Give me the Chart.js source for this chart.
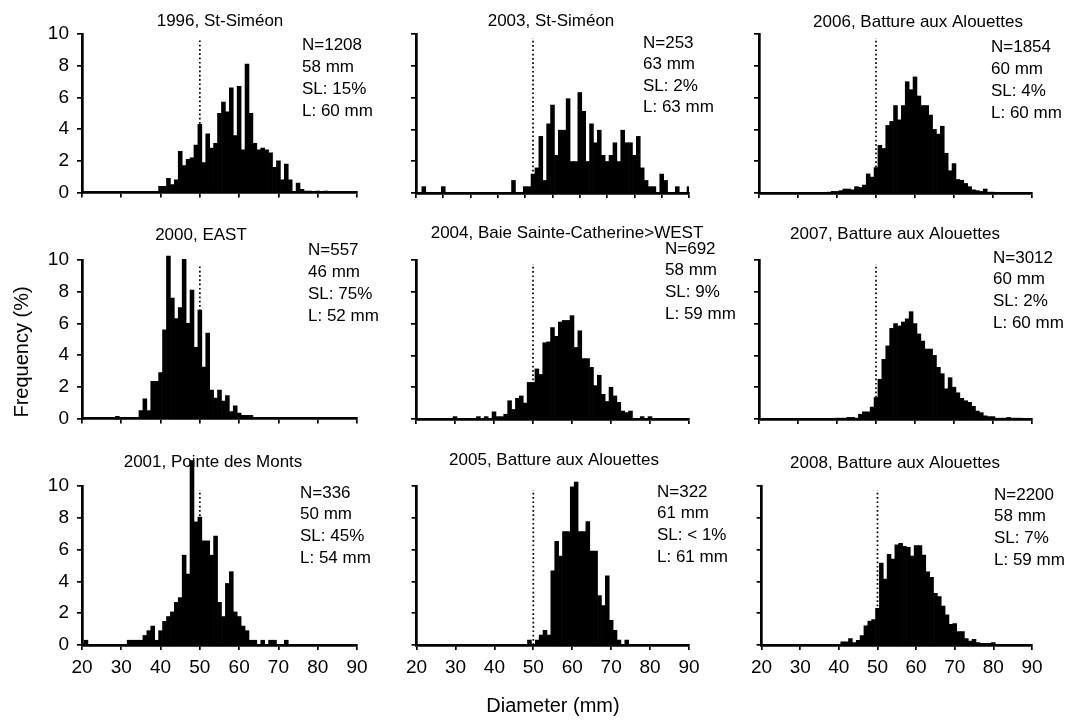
<!DOCTYPE html>
<html><head><meta charset="utf-8">
<script src="https://cdn.jsdelivr.net/npm/chart.js@4.4.1/dist/chart.umd.min.js"></script>
<style>
html,body{margin:0;padding:0;background:#fff;}
#wrap{position:relative;width:1069px;height:721px;overflow:hidden;background:#fff;}
#wrap canvas{position:absolute;}
</style></head><body><div id="wrap"></div>
<script>
// ---- data ----
const diameters = [20,21,22,23,24,25,26,27,28,29,30,31,32,33,34,35,36,37,38,39,40,41,42,43,44,45,46,47,48,49,50,51,52,53,54,55,56,57,58,59,60,61,62,63,64,65,66,67,68,69,70,71,72,73,74,75,76,77,78,79,80,81,82,83,84,85,86,87,88,89,90];
const xTicks = [20,30,40,50,60,70,80,90];
const yTicks = [0,2,4,6,8,10];
const legalSize = 50;
const refTop = 9.75;

const freq1996 = [0,0,0,0,0,0,0,0,0,0, 0,0,0,0,0,0,0,0,0,0,
 0.4,0.4,0.9,0.5,0.8,2.6,1.7,2.1,2.2,3.0,
 4.3,1.9,3.7,2.8,3.1,5.0,5.7,5.1,6.6,3.6,
 6.7,2.7,8.1,5.0,3.1,2.7,2.8,2.7,2.5,1.6,
 2.0,0.8,1.8,0.8,0,0.6,0.2,0.1,0.1,0,
 0.1,0,0.1,0,0,0,0,0,0,0, 0];
const freq2003 = [0,0,0.4,0,0,0,0,0.4,0,0, 0,0,0,0,0,0,0,0,0,0,
 0,0,0,0,0,0.79,0,0,0.4,0.4,
 1.19,1.58,3.56,0.79,4.35,5.53,2.37,3.95,3.95,5.93,
 1.98,1.98,6.32,5.14,1.98,4.35,3.16,3.95,2.37,1.98,
 2.37,3.16,1.98,3.95,3.16,3.16,2.37,3.56,1.58,0.79,
 0.4,0.4,0,1.19,0.79,0,0,0.4,0,0, 0.4];
const freq2006 = [0,0,0,0,0,0,0,0,0,0, 0,0,0,0,0,0,0,0,0.05,0.1,
 0.1,0.15,0.25,0.25,0.2,0.4,0.35,0.5,1.2,1.0,
 1.6,3.0,2.8,4.25,4.5,5.5,4.6,5.5,7.0,6.5,
 7.3,6.1,5.5,5.5,4.9,4.0,3.7,4.2,2.5,1.4,
 1.85,0.85,0.8,0.6,0.4,0.2,0.15,0.1,0.25,0.05,
 0.05,0,0,0,0,0,0,0,0,0, 0];
const freq2000 = [0,0,0,0,0,0,0,0,0,0.15, 0,0,0,0,0,0.5,1.25,0.5,2.35,2.35,
 2.9,5.6,10.25,7.6,6.3,7.0,10.05,6.0,8.1,4.5,
 6.85,3.25,5.4,1.8,1.3,1.8,1.1,1.45,0.45,0.8,
 0.35,0.2,0.2,0.2,0,0,0,0,0,0,
 0,0,0,0,0,0,0,0,0,0,
 0,0,0,0,0,0,0,0,0,0, 0];
const freq2004 = [0,0,0,0,0,0,0,0,0,0, 0.15,0,0,0,0,0,0.15,0,0.15,0,
 0.45,0.15,0.15,0.3,1.15,0.6,1.3,1.45,1.0,2.3,
 2.3,3.15,2.8,4.8,4.85,5.75,5.2,6.1,6.2,6.2,
 6.5,4.5,5.55,3.8,3.8,3.25,2.1,2.75,1.55,1.1,
 2.0,1.45,1.05,0.5,0.4,0.5,0,0,0.15,0,
 0.15,0,0,0,0,0,0,0,0,0, 0];
const freq2007 = [0,0,0,0,0,0,0,0,0,0, 0,0,0,0,0,0,0,0,0,0,
 0.05,0.05,0.05,0.1,0.1,0.05,0.3,0.45,0.45,0.75,
 1.35,2.5,3.75,4.6,5.7,6.0,5.85,6.1,6.3,6.75,
 6.0,5.35,4.9,4.4,4.4,4.0,3.25,2.85,1.9,2.6,
 2.0,1.65,1.3,1.15,1.05,0.8,0.5,0.4,0.2,0.15,
 0.15,0.05,0.05,0.05,0.1,0.05,0.05,0.05,0,0, 0];
const freq2001 = [0,0.3,0,0,0,0,0,0,0,0, 0,0,0.3,0.3,0.3,0.3,0.6,0.9,1.19,0.3,
 0.9,1.49,1.79,2.08,2.68,2.98,5.65,4.46,11.6,7.74,
 8.04,6.55,6.55,5.65,6.85,2.68,1.79,3.87,4.61,2.08,
 1.79,1.19,0.9,0.3,0.3,0,0.3,0,0.3,0.3,
 0,0,0.3,0,0,0,0,0,0,0,
 0,0,0,0,0,0,0,0,0,0, 0];
const freq2005 = [0,0,0,0,0,0,0,0,0,0, 0,0,0,0,0,0,0,0,0,0,
 0,0,0,0,0,0,0,0,0,0.31,
 0,0.31,0.62,0.93,0.62,4.66,6.52,5.59,7.14,7.14,
 9.94,10.25,7.14,7.14,7.76,5.9,5.9,3.11,2.48,4.35,
 1.55,0.93,0.31,0,0.31,0,0,0,0,0,
 0,0,0,0,0,0,0,0,0,0, 0];
const freq2008 = [0,0,0,0,0,0,0,0,0,0, 0,0,0,0,0,0,0,0,0,0,
 0,0.2,0.2,0.4,0.15,0.3,0.6,1.2,1.5,1.6,
 2.3,5.15,4.15,5.7,5.4,6.3,6.4,6.2,6.15,5.6,
 6.25,6.25,5.65,4.6,4.25,3.25,3.05,2.45,1.9,1.3,
 1.35,0.85,0.85,0.4,0.25,0.35,0.15,0.1,0.1,0.1,
 0.15,0,0,0,0,0,0,0,0,0, 0];

const titles = ['1996, St-Siméon','2003, St-Siméon','2006, Batture aux Alouettes',
 '2000, EAST','2004, Baie Sainte-Catherine>WEST','2007, Batture aux Alouettes',
 '2001, Pointe des Monts','2005, Batture aux Alouettes','2008, Batture aux Alouettes'];
const notes = [
 ['N=1208','58 mm','SL: 15%','L: 60 mm'],
 ['N=253','63 mm','SL: 2%','L: 63 mm'],
 ['N=1854','60 mm','SL: 4%','L: 60 mm'],
 ['N=557','46 mm','SL: 75%','L: 52 mm'],
 ['N=692','58 mm','SL: 9%','L: 59 mm'],
 ['N=3012','60 mm','SL: 2%','L: 60 mm'],
 ['N=336','50 mm','SL: 45%','L: 54 mm'],
 ['N=322','61 mm','SL: < 1%','L: 61 mm'],
 ['N=2200','58 mm','SL: 7%','L: 59 mm']];
const series = [freq1996,freq2003,freq2006,freq2000,freq2004,freq2007,freq2001,freq2005,freq2008];
const xLabel = 'Diameter (mm)';
const yLabel = 'Frequency (%)';

// ---- layout (pixels) ----
const FONT = "'Liberation Sans', Arial, Helvetica, sans-serif";
const colArea = [[82,357],[416,689],[759,1032]];
const rowArea = [[34,193],[260,419],[486,645]];
const colCanvas = [[0,395],[400,745],[745,1069]];
const rowCanvas = [[0,212],[212,438],[438,721]];
const titlePos = [[220,21],[551,21],[918,22],[201,235],[567,233],[895,234],[213,462],[554,460],[895,463]];
const notePos = [[302,45],[643,43],[991,47],[308,250],[665,249],[993,258],[300,493],[657,492],[994,495]];
const noteGap = [22,21.5,22,22,21.7,21.7,21.7,21.7,21.7];
const xStep = [10,7,10,10,10,10,10,10,10];

const wrap = document.getElementById('wrap');

function textPlugin(items, ox, oy) {
  return {
    id: 'panelText',
    beforeDatasetsDraw(chart) {
      const ctx = chart.ctx;
      items.forEach(it => {
        ctx.save();
        ctx.fillStyle = '#000';
        ctx.font = it.size + 'px ' + FONT;
        ctx.textAlign = it.align || 'left';
        ctx.textBaseline = 'middle';
        ctx.translate(it.x - ox, it.y - oy);
        if (it.rot) ctx.rotate(it.rot);
        ctx.fillText(it.text, 0, 0);
        ctx.restore();
      });
    }
  };
}

for (let k = 0; k < 9; k++) {
  const col = k % 3, row = Math.floor(k / 3);
  const [cx0, cx1] = colCanvas[col], [cy0, cy1] = rowCanvas[row];
  const [L, R] = colArea[col], [T, B] = rowArea[row];
  const w = cx1 - cx0, h = cy1 - cy0;
  const cv = document.createElement('canvas');
  cv.width = w; cv.height = h;
  cv.style.left = cx0 + 'px'; cv.style.top = cy0 + 'px';
  cv.style.width = w + 'px'; cv.style.height = h + 'px';
  wrap.appendChild(cv);
  const yW = L - cx0, xH = cy1 - B;

  const items = [{text: titles[k], x: titlePos[k][0], y: titlePos[k][1], size: 17, align: 'center'}];
  notes[k].forEach((t, i) => items.push({text: t, x: notePos[k][0], y: notePos[k][1] + i * noteGap[k], size: 17}));
  if (k === 3) items.push({text: yLabel, x: 22, y: 352, size: 20, align: 'center', rot: -Math.PI / 2});
  if (k === 7) items.push({text: xLabel, x: 553, y: 706, size: 20, align: 'center'});

  const gridOpts = {display: true, drawOnChartArea: false, drawTicks: true, tickLength: 5, color: '#000', lineWidth: 1.7, offset: false};
  const borderOpts = {display: true, color: '#000', width: 2.7};

  new Chart(cv, {
    type: 'bar',
    data: {
      datasets: [
        {type: 'bar', data: diameters.map((d, i) => ({x: d, y: series[k][i]})),
         backgroundColor: '#000', borderWidth: 0, barPercentage: 1, categoryPercentage: 1, order: 1,
         clip: {left: 0, right: 0, bottom: 0, top: false}},
        {type: 'line', data: [{x: legalSize, y: 0}, {x: legalSize, y: refTop}],
         borderColor: '#000', borderWidth: 1.7, borderDash: [1.7, 2.6], pointRadius: 0, fill: false, order: 2}
      ]
    },
    options: {
      responsive: false, animation: false, devicePixelRatio: 1,
      layout: {padding: {left: 0, top: T - cy0, right: cx1 - R, bottom: 0}},
      plugins: {legend: {display: false}, tooltip: {enabled: false}, title: {display: false}},
      scales: {
        x: {type: 'linear', min: xTicks[0], max: xTicks[xTicks.length - 1], offset: false,
            ticks: {stepSize: xStep[k], display: row === 2, font: {family: FONT, size: 19}, color: '#000', padding: 6, maxRotation: 0, autoSkip: false},
            grid: gridOpts, border: borderOpts,
            afterFit(s) { s.height = xH; }},
        y: {type: 'linear', min: yTicks[0], max: yTicks[yTicks.length - 1],
            ticks: {stepSize: 2, display: col === 0, font: {family: FONT, size: 19}, color: '#000', padding: 8},
            grid: gridOpts, border: borderOpts,
            afterFit(s) { s.width = yW; }}
      }
    },
    plugins: [textPlugin(items, cx0, cy0)]
  });
}
</script>
</body></html>
